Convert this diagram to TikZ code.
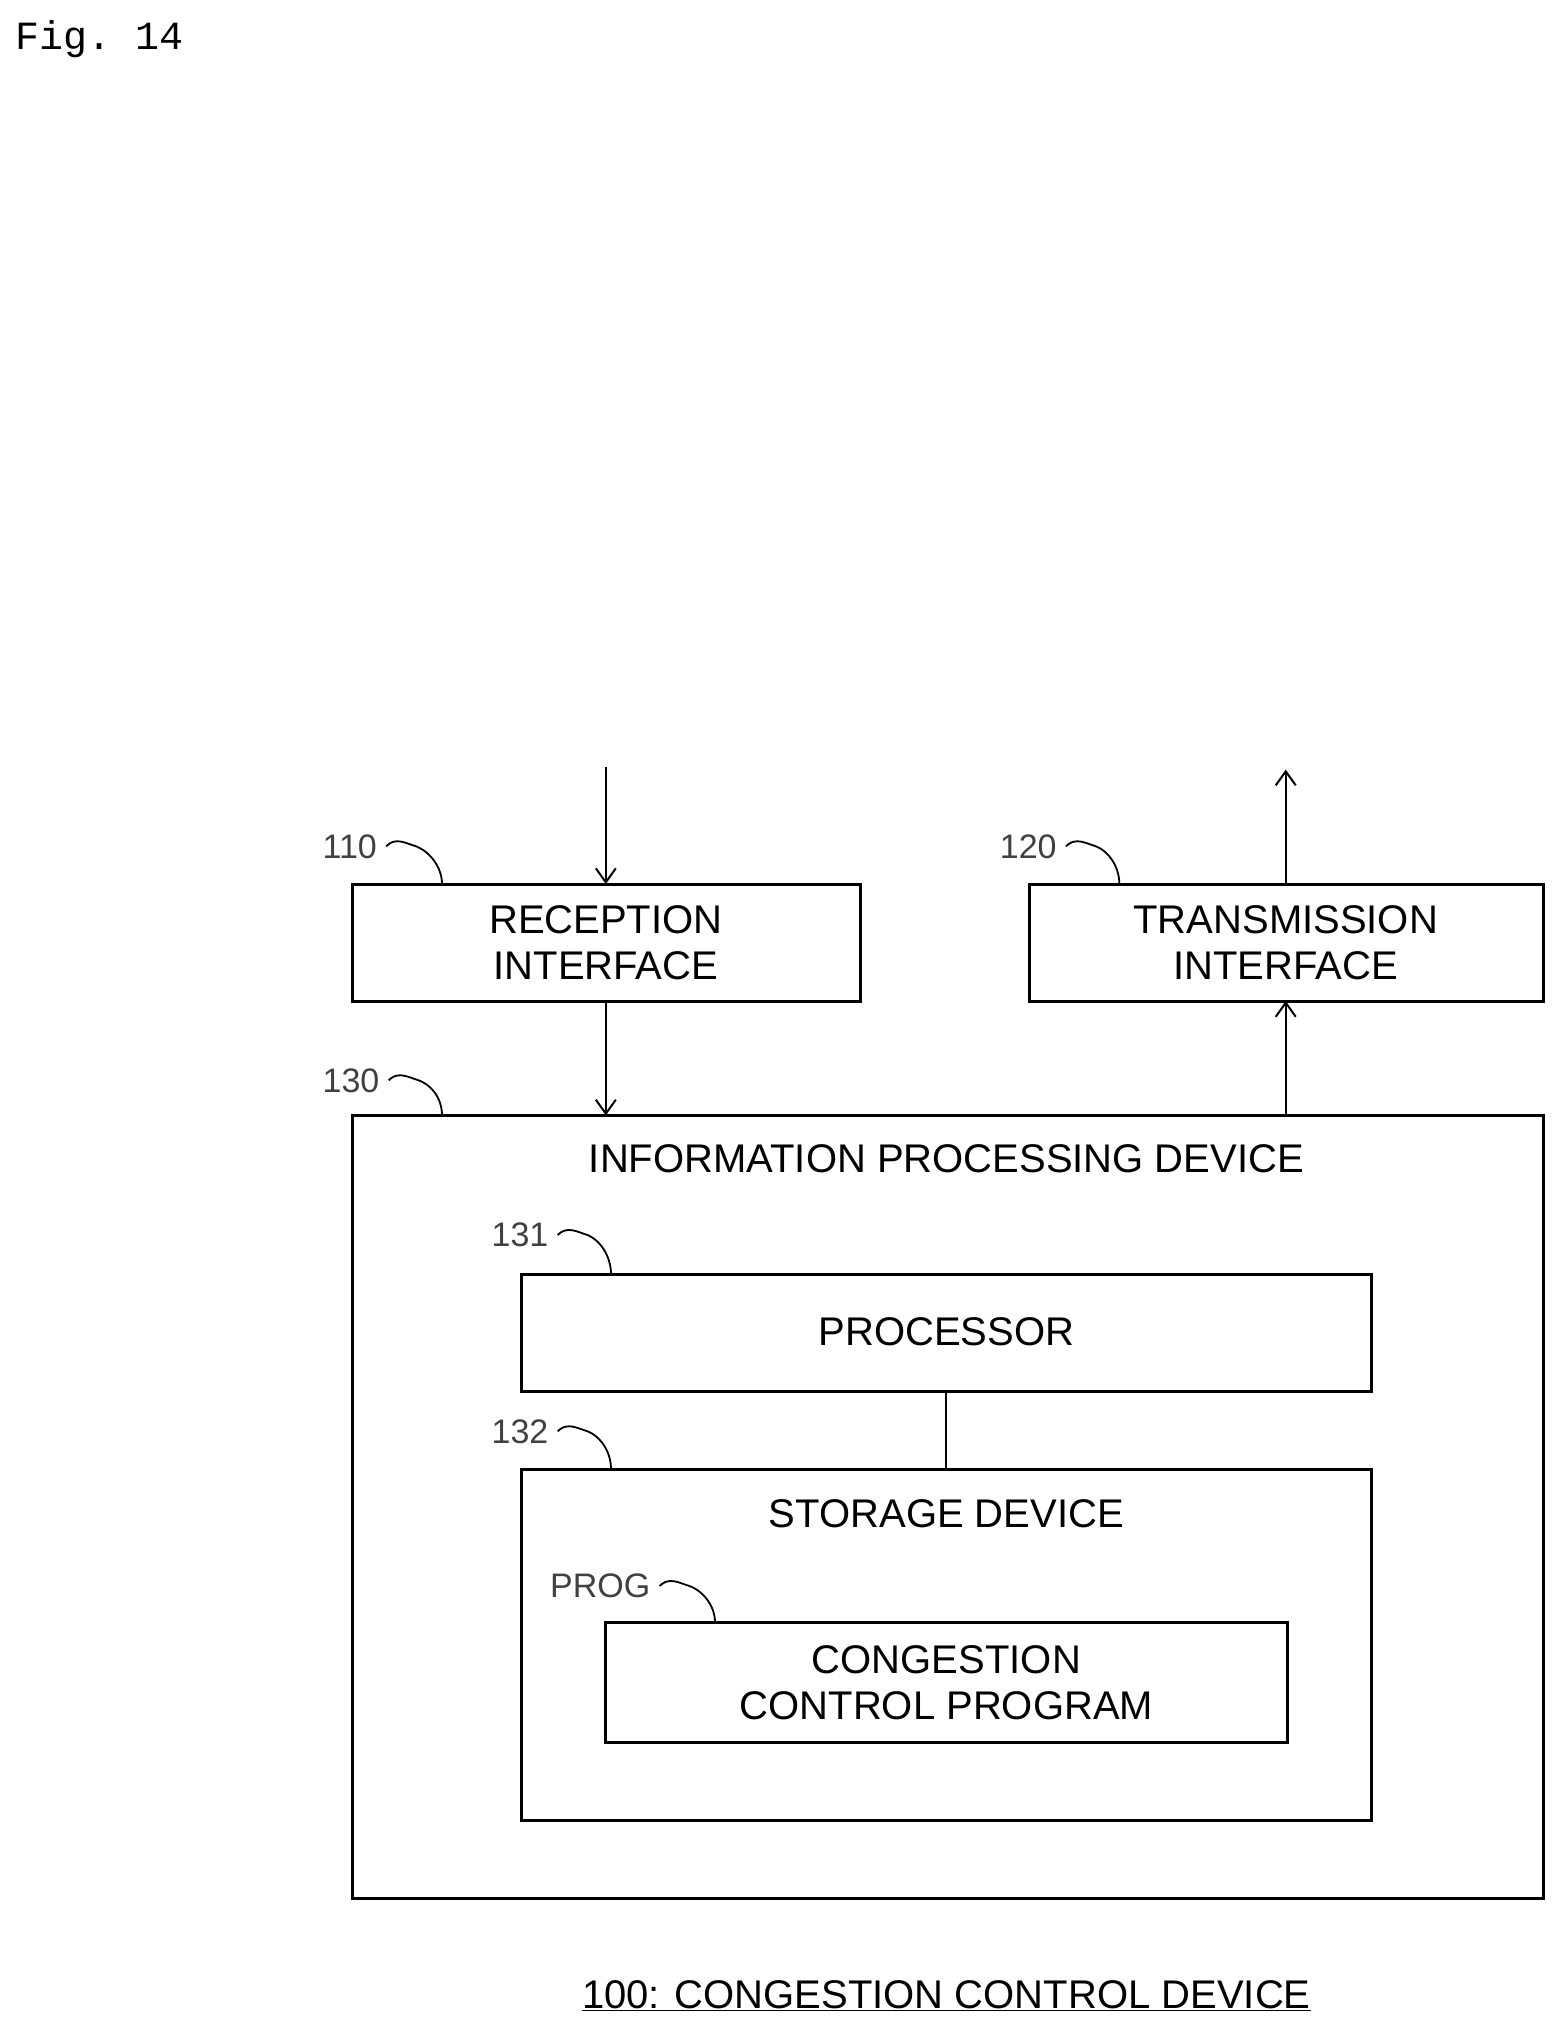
\documentclass[tikz,border=0pt]{standalone}
\usetikzlibrary{arrows.meta,calc}
\usepackage{fontspec}
\setmainfont{Liberation Sans}
\setmonofont{Liberation Mono}
\begin{document}
\begin{tikzpicture}[x=1.3pt,y=-1.3pt,
  box/.style={draw,line width=3pt},
  lbl/.style={font=\fontsize{40}{46}\selectfont,align=center,inner sep=0pt},
  num/.style={font=\fontsize{34}{38}\selectfont,text=black!75,inner sep=0pt,anchor=west},
  arr/.style={line width=2pt,-{Straight Barb[length=14pt,width=20pt]}},
  sq/.style={line width=1.8pt}]
\useasboundingbox (0,0) rectangle (1199.2,1561.5);
\node[font=\ttfamily\fontsize{40}{44}\selectfont,anchor=west,inner sep=0pt] (fig) at (12,30) {Fig. 14};
\draw[box] (271,680) rectangle (662,770);
\node[lbl] (rx) at (466,725) {RECEPTION\\INTERFACE};
\draw[box] (792,680) rectangle (1187,770);
\node[lbl] (tx) at (989,725) {TRANSMISSION\\INTERFACE};
\draw[box] (271,858) rectangle (1187,1460);
\node[lbl] (ipd) at (728,891) {INFORMATION PROCESSING DEVICE};
\draw[box] (401,980) rectangle (1055,1070);
\node[lbl] (proc) at (728,1024) {PROCESSOR};
\draw[box] (401,1130) rectangle (1055,1400);
\node[lbl] (stor) at (728,1164) {STORAGE DEVICE};
\draw[box] (466,1248) rectangle (990,1340);
\node[lbl] (prog) at (728,1294) {CONGESTION\\CONTROL PROGRAM};
\coordinate (inA) at (466,590); \coordinate (rxT) at (466,680);
\coordinate (rxB) at (466,770); \coordinate (ipT) at (466,858);
\coordinate (txT) at (989,680); \coordinate (outA) at (989,592);
\coordinate (txB) at (989,770); \coordinate (ipT2) at (989,858);
\draw[arr] (inA) -- (rxT);
\draw[arr] (rxB) -- (ipT);
\draw[arr] (ipT2) -- (txB);
\draw[arr] (txT) -- (outA);
\coordinate (pB) at (728,1070); \coordinate (sT) at (728,1130);
\draw[line width=2pt] (pB) -- (sT);
\node[num] (n110) at (248,651) {110};
\node[num] (n120) at (769,651) {120};
\node[num] (n130) at (248,831) {130};
\node[num] (n131) at (378,950) {131};
\node[num] (n132) at (378,1101) {132};
\node[num] (nprog) at (423,1220) {PROG};
\coordinate (b110) at (340,680);
\coordinate (b120) at (861,680);
\coordinate (b130) at (340,858);
\coordinate (b131) at (470,980);
\coordinate (b132) at (470,1130);
\coordinate (bprog) at (550,1248);
\foreach \n in {110,120,130,131,132,prog}{
  \draw[sq] (n\n.east) ++(7,0) .. controls +(6,-6) and +(-8,-3) .. ++(20,-1) .. controls +(12,3) and ($(b\n)+(0,-14)$) .. (b\n);
}
\node[lbl] (cap) at (728,1535) {\underline{100: CONGESTION CONTROL DEVICE}};
\end{tikzpicture}
\end{document}
